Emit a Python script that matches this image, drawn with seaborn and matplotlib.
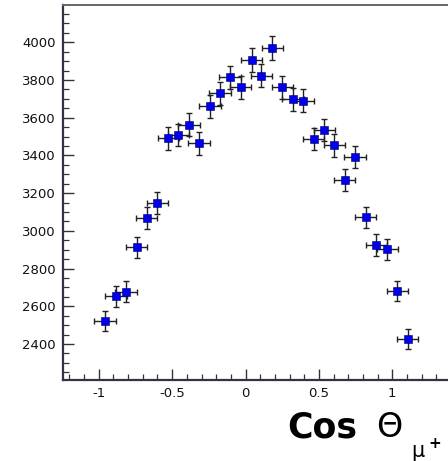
"""Angular distribution of mu+ : counts vs cos(theta)."""

import matplotlib
matplotlib.use("Agg")
import matplotlib.pyplot as plt
import seaborn as sns
import pandas as pd
from matplotlib.ticker import MultipleLocator

# data
cos_theta = [-0.958, -0.883, -0.815, -0.742, -0.674, -0.601, -0.526, -0.458,
             -0.385, -0.317, -0.242, -0.174, -0.106, -0.033, 0.042, 0.106,
             0.183, 0.251, 0.324, 0.394, 0.465, 0.537, 0.605, 0.676,
             0.746, 0.819, 0.890, 0.965, 1.035, 1.106]
counts = [2522, 2653, 2678, 2913, 3067, 3146, 3491, 3509, 3562, 3465,
          3662, 3730, 3814, 3761, 3906, 3823, 3968, 3761, 3698, 3689,
          3487, 3535, 3454, 3268, 3393, 3072, 2925, 2902, 2681, 2425]
count_err = [54, 55, 55, 57, 58, 59, 60, 60, 61, 60,
             61, 62, 62, 62, 63, 62, 63, 62, 61, 61,
             60, 60, 60, 58, 59, 57, 56, 56, 55, 53]
bin_halfwidth = 0.072

x_ticks = [-1, -0.5, 0, 0.5, 1]
x_tick_labels = ["-1", "-0.5", "0", "0.5", "1"]
y_ticks = [2400, 2600, 2800, 3000, 3200, 3400, 3600, 3800, 4000]

df = pd.DataFrame({"cos": cos_theta, "n": counts, "err": count_err})

sns.set_style("white")
plt.rcParams["font.family"] = ["DejaVu Sans"]

fig = plt.figure(figsize=(4.48, 4.61), dpi=100)
ax = fig.add_axes([63 / 448, 1 - 380 / 461, 1 - 63 / 448, (380 - 5) / 461])

# error bars first, markers on top
ax.errorbar(df["cos"], df["n"], xerr=bin_halfwidth, yerr=df["err"],
            fmt="none", ecolor="#222222", elinewidth=1.0, capsize=2.2,
            capthick=1.0, zorder=2)
sns.scatterplot(data=df, x="cos", y="n", marker="s", s=40, color="#0000ee",
                edgecolor="#000055", linewidth=0.4, ax=ax, zorder=3)

ax.set_xlim(-1.244, 1.38)
ax.set_ylim(2209, 4198)
ax.set_xticks(x_ticks)
ax.set_xticklabels(x_tick_labels)
ax.set_yticks(y_ticks)
ax.xaxis.set_minor_locator(MultipleLocator(0.1))
ax.yaxis.set_minor_locator(MultipleLocator(50))
ax.set_xlabel("")
ax.set_ylabel("")

ax.tick_params(which="major", direction="in", length=8, width=1.0,
               color="#333340", labelsize=9.5, labelcolor="#111111", pad=5)
ax.tick_params(which="minor", direction="in", length=4, width=0.9,
               color="#333340")
ax.tick_params(axis="x", which="both", bottom=True, top=False)
ax.tick_params(axis="y", which="both", left=True, right=False)

for side in ["left", "bottom"]:
    ax.spines[side].set_color("#333344")
    ax.spines[side].set_linewidth(1.6)
ax.spines["top"].set_color("#666666")
ax.spines["top"].set_linewidth(1.4)
ax.spines["right"].set_visible(False)

# axis title, bottom right
fig.text(287 / 448, 1 - 437 / 461, "Cos", fontsize=25, fontweight="bold",
         family="DejaVu Sans", va="baseline", ha="left", color="black")
fig.text(376 / 448, 1 - 437 / 461, "Θ", fontsize=24, family="DejaVu Sans",
         va="baseline", ha="left", color="black")
fig.text(411 / 448, 1 - 457 / 461, "μ", fontsize=15, family="DejaVu Sans",
         va="baseline", ha="left", color="black")
fig.text(428 / 448, 1 - 448 / 461, "+", fontsize=11, fontweight="bold",
         family="DejaVu Sans", va="baseline", ha="left", color="black")

fig.savefig("out.png", dpi=100)
plt.close(fig)
